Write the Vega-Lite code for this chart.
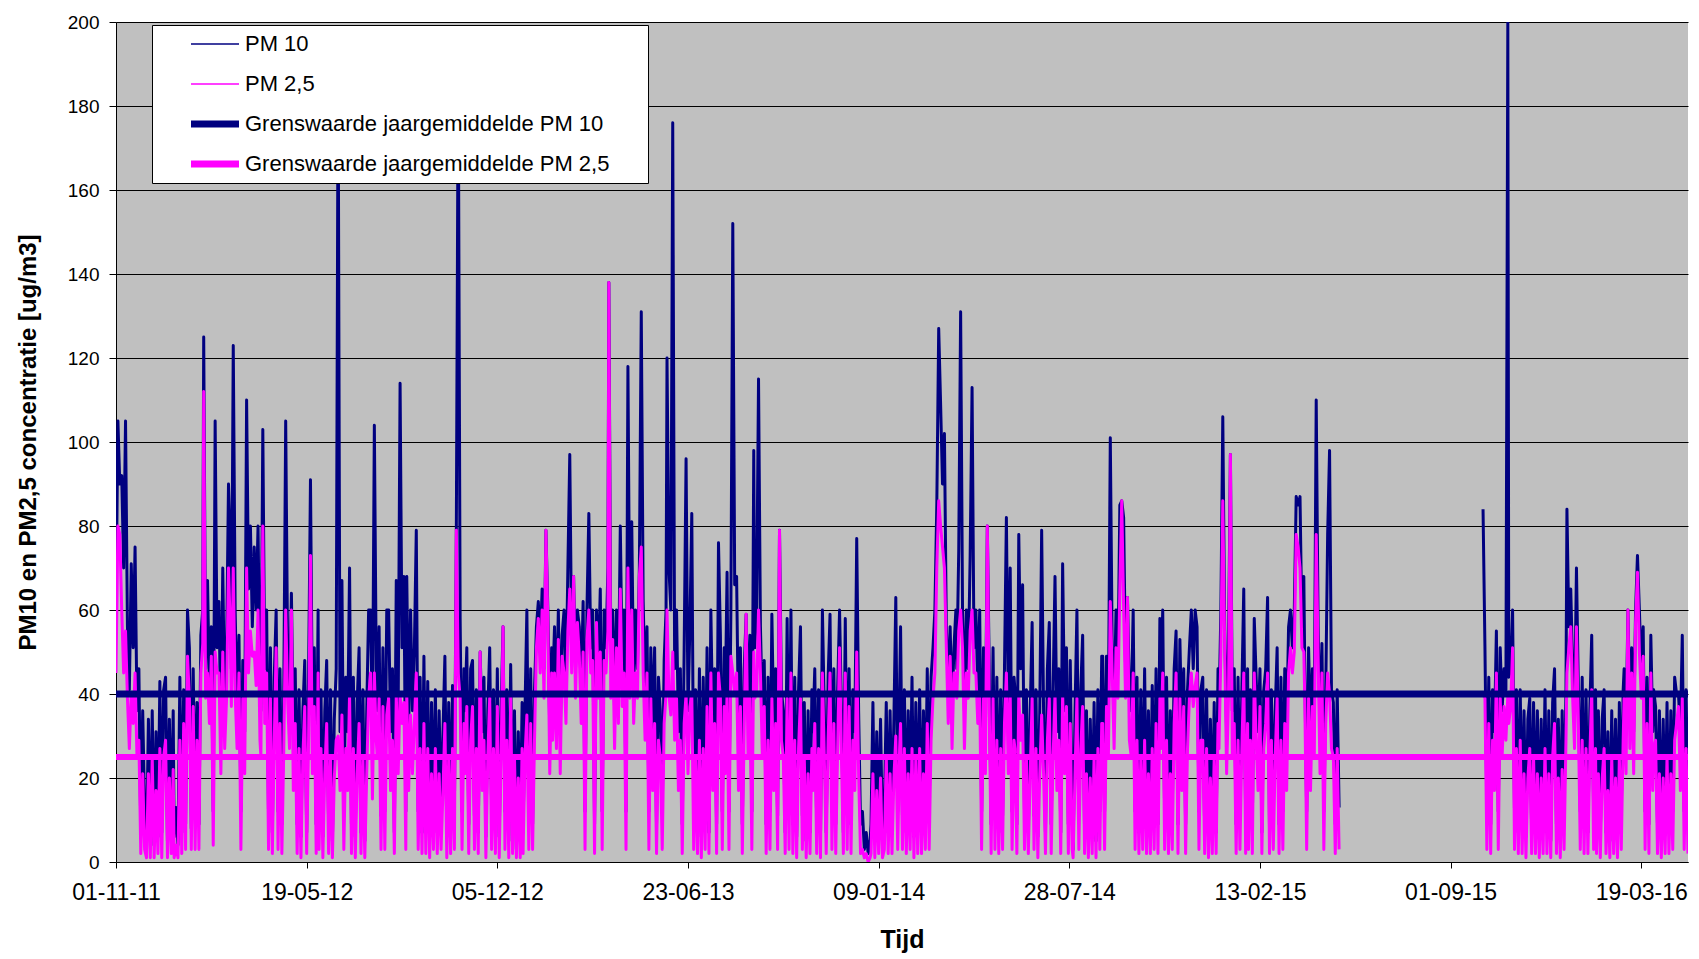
{
"$schema": "https://vega.github.io/schema/vega-lite/v6.json",
"width": 1572, "height": 840,
"autosize": {"type": "none"},
"padding": {"left": 116, "top": 22, "right": 11, "bottom": 97},
"background": "white",
"config": {
 "view": {"fill": "#C0C0C0", "stroke": null},
 "font": "Liberation Sans",
 "axis": {"labelFont": "Liberation Sans", "titleFont": "Liberation Sans", "labelColor": "#000", "titleColor": "#000", "domainColor": "#000", "tickColor": "#000", "domainWidth": 1, "tickWidth": 1, "labelFlush": false, "labelOverlap": false}
},
"datasets": {
"lim": [{"t":"2011-11-01","c":40,"d":25},{"t":"2016-05-07","c":40,"d":25}],
"pm": [
{"t":"2011-11-01","a":60,"b":45},{"t":"2011-11-03","a":105,"b":80},{"t":"2011-11-05","a":90,"b":78},{"t":"2011-11-07","a":92,"b":60},{"t":"2011-11-09","a":70,"b":45},{"t":"2011-11-11","a":105,"b":55},{"t":"2011-11-13","a":56,"b":39},{"t":"2011-11-15","a":41,"b":27},{"t":"2011-11-17","a":71,"b":40},{"t":"2011-11-19","a":51,"b":33},{"t":"2011-11-21","a":75,"b":45},{"t":"2011-11-23","a":36,"b":25},{"t":"2011-11-25","a":46,"b":29},{"t":"2011-11-27","a":7,"b":2},{"t":"2011-11-29","a":36,"b":21},
{"t":"2011-12-01","a":13,"b":3},{"t":"2011-12-03","a":3,"b":1},{"t":"2011-12-05","a":34,"b":21},{"t":"2011-12-07","a":5,"b":1},{"t":"2011-12-09","a":36,"b":25},{"t":"2011-12-11","a":4,"b":1},{"t":"2011-12-13","a":31,"b":17},{"t":"2011-12-15","a":6,"b":2},{"t":"2011-12-17","a":43,"b":27},{"t":"2011-12-19","a":7,"b":1},{"t":"2011-12-21","a":41,"b":25},{"t":"2011-12-23","a":44,"b":29},{"t":"2011-12-25","a":5,"b":1},{"t":"2011-12-27","a":34,"b":20},{"t":"2011-12-29","a":8,"b":2},{"t":"2011-12-31","a":36,"b":22},
{"t":"2012-01-01","a":6,"b":1},{"t":"2012-01-03","a":13,"b":4},{"t":"2012-01-05","a":4,"b":1},{"t":"2012-01-07","a":44,"b":29},{"t":"2012-01-09","a":7,"b":2},{"t":"2012-01-11","a":41,"b":33},{"t":"2012-01-13","a":9,"b":3},{"t":"2012-01-15","a":60,"b":49},{"t":"2012-01-17","a":51,"b":39},{"t":"2012-01-19","a":8,"b":3},{"t":"2012-01-21","a":46,"b":37},{"t":"2012-01-23","a":11,"b":3},{"t":"2012-01-25","a":38,"b":29},{"t":"2012-01-27","a":9,"b":3},{"t":"2012-01-29","a":54,"b":45},{"t":"2012-01-31","a":60,"b":52},
{"t":"2012-02-01","a":125,"b":112},{"t":"2012-02-03","a":46,"b":39},{"t":"2012-02-05","a":67,"b":45},{"t":"2012-02-07","a":41,"b":33},{"t":"2012-02-09","a":56,"b":49},{"t":"2012-02-11","a":12,"b":4},{"t":"2012-02-13","a":105,"b":50},{"t":"2012-02-15","a":51,"b":45},{"t":"2012-02-17","a":62,"b":45},{"t":"2012-02-19","a":31,"b":21},{"t":"2012-02-21","a":70,"b":50},{"t":"2012-02-23","a":36,"b":27},{"t":"2012-02-25","a":51,"b":39},{"t":"2012-02-27","a":90,"b":70},{"t":"2012-02-29","a":75,"b":55},
{"t":"2012-03-01","a":46,"b":37},{"t":"2012-03-03","a":123,"b":70},{"t":"2012-03-05","a":60,"b":40},{"t":"2012-03-07","a":36,"b":27},{"t":"2012-03-09","a":54,"b":45},{"t":"2012-03-11","a":12,"b":3},{"t":"2012-03-13","a":48,"b":39},{"t":"2012-03-15","a":31,"b":21},{"t":"2012-03-17","a":110,"b":70},{"t":"2012-03-19","a":65,"b":45},{"t":"2012-03-21","a":80,"b":55},{"t":"2012-03-23","a":56,"b":49},{"t":"2012-03-25","a":75,"b":50},{"t":"2012-03-27","a":60,"b":42},{"t":"2012-03-29","a":80,"b":60},{"t":"2012-03-31","a":41,"b":29},
{"t":"2012-04-01","a":36,"b":25},{"t":"2012-04-03","a":103,"b":80},{"t":"2012-04-05","a":46,"b":33},{"t":"2012-04-07","a":60,"b":45},{"t":"2012-04-09","a":11,"b":3},{"t":"2012-04-11","a":51,"b":39},{"t":"2012-04-13","a":7,"b":2},{"t":"2012-04-15","a":44,"b":29},{"t":"2012-04-17","a":60,"b":51},{"t":"2012-04-19","a":12,"b":3},{"t":"2012-04-21","a":46,"b":33},{"t":"2012-04-23","a":9,"b":2},{"t":"2012-04-25","a":41,"b":27},{"t":"2012-04-27","a":105,"b":60},{"t":"2012-04-29","a":51,"b":39},
{"t":"2012-05-01","a":36,"b":27},{"t":"2012-05-03","a":64,"b":60},{"t":"2012-05-05","a":31,"b":17},{"t":"2012-05-07","a":46,"b":33},{"t":"2012-05-09","a":9,"b":2},{"t":"2012-05-11","a":41,"b":27},{"t":"2012-05-13","a":6,"b":1},{"t":"2012-05-15","a":36,"b":25},{"t":"2012-05-17","a":48,"b":37},{"t":"2012-05-19","a":7,"b":2},{"t":"2012-05-21","a":44,"b":29},{"t":"2012-05-23","a":91,"b":73},{"t":"2012-05-25","a":36,"b":21},{"t":"2012-05-27","a":51,"b":37},{"t":"2012-05-29","a":9,"b":2},{"t":"2012-05-31","a":60,"b":45},
{"t":"2012-06-01","a":12,"b":3},{"t":"2012-06-03","a":41,"b":27},{"t":"2012-06-05","a":6,"b":1},{"t":"2012-06-07","a":36,"b":21},{"t":"2012-06-09","a":48,"b":33},{"t":"2012-06-11","a":9,"b":2},{"t":"2012-06-13","a":41,"b":25},{"t":"2012-06-15","a":5,"b":1},{"t":"2012-06-17","a":34,"b":20},{"t":"2012-06-19","a":46,"b":29},{"t":"2012-06-21","a":190,"b":30},{"t":"2012-06-23","a":31,"b":17},{"t":"2012-06-25","a":67,"b":35},{"t":"2012-06-27","a":11,"b":3},{"t":"2012-06-29","a":44,"b":27},
{"t":"2012-07-01","a":31,"b":17},{"t":"2012-07-03","a":70,"b":40},{"t":"2012-07-05","a":9,"b":2},{"t":"2012-07-07","a":44,"b":27},{"t":"2012-07-09","a":6,"b":1},{"t":"2012-07-11","a":38,"b":21},{"t":"2012-07-13","a":51,"b":33},{"t":"2012-07-15","a":7,"b":2},{"t":"2012-07-17","a":41,"b":25},{"t":"2012-07-19","a":5,"b":1},{"t":"2012-07-21","a":36,"b":21},{"t":"2012-07-23","a":60,"b":39},{"t":"2012-07-25","a":60,"b":45},{"t":"2012-07-27","a":31,"b":15},{"t":"2012-07-29","a":104,"b":45},{"t":"2012-07-31","a":46,"b":29},
{"t":"2012-08-01","a":36,"b":25},{"t":"2012-08-03","a":56,"b":39},{"t":"2012-08-05","a":11,"b":3},{"t":"2012-08-07","a":51,"b":37},{"t":"2012-08-09","a":12,"b":3},{"t":"2012-08-11","a":60,"b":35},{"t":"2012-08-13","a":60,"b":39},{"t":"2012-08-15","a":31,"b":17},{"t":"2012-08-17","a":46,"b":29},{"t":"2012-08-19","a":7,"b":2},{"t":"2012-08-21","a":67,"b":40},{"t":"2012-08-23","a":36,"b":21},{"t":"2012-08-25","a":114,"b":40},{"t":"2012-08-27","a":51,"b":33},{"t":"2012-08-29","a":68,"b":38},{"t":"2012-08-31","a":12,"b":3},
{"t":"2012-09-01","a":68,"b":40},{"t":"2012-09-03","a":31,"b":17},{"t":"2012-09-05","a":60,"b":35},{"t":"2012-09-07","a":36,"b":21},{"t":"2012-09-09","a":51,"b":33},{"t":"2012-09-11","a":79,"b":45},{"t":"2012-09-13","a":12,"b":3},{"t":"2012-09-15","a":44,"b":27},{"t":"2012-09-17","a":7,"b":2},{"t":"2012-09-19","a":49,"b":33},{"t":"2012-09-21","a":9,"b":2},{"t":"2012-09-23","a":43,"b":27},{"t":"2012-09-25","a":6,"b":1},{"t":"2012-09-27","a":38,"b":21},{"t":"2012-09-29","a":12,"b":3},
{"t":"2012-10-01","a":41,"b":27},{"t":"2012-10-03","a":7,"b":2},{"t":"2012-10-05","a":36,"b":21},{"t":"2012-10-07","a":11,"b":3},{"t":"2012-10-09","a":31,"b":17},{"t":"2012-10-11","a":49,"b":33},{"t":"2012-10-13","a":6,"b":1},{"t":"2012-10-15","a":38,"b":25},{"t":"2012-10-17","a":9,"b":2},{"t":"2012-10-19","a":42,"b":27},{"t":"2012-10-21","a":13,"b":3},{"t":"2012-10-23","a":79,"b":79},{"t":"2012-10-25","a":190,"b":45},{"t":"2012-10-27","a":58,"b":39},{"t":"2012-10-29","a":12,"b":3},{"t":"2012-10-31","a":46,"b":33},
{"t":"2012-11-01","a":36,"b":21},{"t":"2012-11-03","a":51,"b":37},{"t":"2012-11-05","a":9,"b":2},{"t":"2012-11-07","a":46,"b":29},{"t":"2012-11-09","a":48,"b":37},{"t":"2012-11-11","a":11,"b":3},{"t":"2012-11-13","a":41,"b":27},{"t":"2012-11-15","a":7,"b":2},{"t":"2012-11-17","a":50,"b":50},{"t":"2012-11-19","a":31,"b":17},{"t":"2012-11-21","a":44,"b":29},{"t":"2012-11-23","a":6,"b":1},{"t":"2012-11-25","a":36,"b":25},{"t":"2012-11-27","a":51,"b":39},{"t":"2012-11-29","a":12,"b":3},
{"t":"2012-12-01","a":41,"b":27},{"t":"2012-12-03","a":9,"b":2},{"t":"2012-12-05","a":46,"b":37},{"t":"2012-12-07","a":6,"b":1},{"t":"2012-12-09","a":36,"b":25},{"t":"2012-12-11","a":56,"b":56},{"t":"2012-12-13","a":12,"b":3},{"t":"2012-12-15","a":41,"b":29},{"t":"2012-12-17","a":5,"b":1},{"t":"2012-12-19","a":47,"b":40},{"t":"2012-12-21","a":9,"b":2},{"t":"2012-12-23","a":36,"b":25},{"t":"2012-12-25","a":3,"b":1},{"t":"2012-12-27","a":31,"b":20},{"t":"2012-12-29","a":6,"b":1},{"t":"2012-12-31","a":38,"b":27},
{"t":"2013-01-01","a":7,"b":2},{"t":"2013-01-03","a":36,"b":25},{"t":"2013-01-05","a":60,"b":35},{"t":"2013-01-07","a":12,"b":3},{"t":"2013-01-09","a":46,"b":33},{"t":"2013-01-11","a":9,"b":3},{"t":"2013-01-13","a":41,"b":29},{"t":"2013-01-15","a":56,"b":51},{"t":"2013-01-17","a":62,"b":58},{"t":"2013-01-19","a":51,"b":45},{"t":"2013-01-21","a":65,"b":60},{"t":"2013-01-23","a":46,"b":39},{"t":"2013-01-25","a":79,"b":79},{"t":"2013-01-27","a":60,"b":57},{"t":"2013-01-29","a":31,"b":21},{"t":"2013-01-31","a":51,"b":45},
{"t":"2013-02-01","a":41,"b":29},{"t":"2013-02-03","a":56,"b":45},{"t":"2013-02-05","a":36,"b":27},{"t":"2013-02-07","a":60,"b":53},{"t":"2013-02-09","a":31,"b":21},{"t":"2013-02-11","a":54,"b":49},{"t":"2013-02-13","a":60,"b":45},{"t":"2013-02-15","a":41,"b":33},{"t":"2013-02-17","a":70,"b":55},{"t":"2013-02-19","a":97,"b":65},{"t":"2013-02-21","a":51,"b":45},{"t":"2013-02-23","a":68,"b":68},{"t":"2013-02-25","a":46,"b":39},{"t":"2013-02-27","a":60,"b":57},
{"t":"2013-03-01","a":56,"b":49},{"t":"2013-03-03","a":41,"b":33},{"t":"2013-03-05","a":62,"b":50},{"t":"2013-03-07","a":12,"b":3},{"t":"2013-03-09","a":60,"b":53},{"t":"2013-03-11","a":83,"b":60},{"t":"2013-03-13","a":51,"b":45},{"t":"2013-03-15","a":60,"b":48},{"t":"2013-03-17","a":9,"b":2},{"t":"2013-03-19","a":60,"b":57},{"t":"2013-03-21","a":46,"b":39},{"t":"2013-03-23","a":65,"b":50},{"t":"2013-03-25","a":12,"b":3},{"t":"2013-03-27","a":60,"b":48},{"t":"2013-03-29","a":51,"b":45},{"t":"2013-03-31","a":70,"b":55},
{"t":"2013-04-01","a":138,"b":138},{"t":"2013-04-03","a":51,"b":39},{"t":"2013-04-05","a":60,"b":53},{"t":"2013-04-07","a":36,"b":27},{"t":"2013-04-09","a":60,"b":51},{"t":"2013-04-11","a":41,"b":33},{"t":"2013-04-13","a":80,"b":65},{"t":"2013-04-15","a":46,"b":37},{"t":"2013-04-17","a":60,"b":45},{"t":"2013-04-19","a":12,"b":3},{"t":"2013-04-21","a":118,"b":70},{"t":"2013-04-23","a":51,"b":39},{"t":"2013-04-25","a":81,"b":60},{"t":"2013-04-27","a":41,"b":33},{"t":"2013-04-29","a":60,"b":45},
{"t":"2013-05-01","a":46,"b":39},{"t":"2013-05-03","a":70,"b":68},{"t":"2013-05-05","a":131,"b":75},{"t":"2013-05-07","a":62,"b":45},{"t":"2013-05-09","a":41,"b":29},{"t":"2013-05-11","a":56,"b":45},{"t":"2013-05-13","a":12,"b":3},{"t":"2013-05-15","a":51,"b":39},{"t":"2013-05-17","a":31,"b":17},{"t":"2013-05-19","a":51,"b":33},{"t":"2013-05-21","a":9,"b":2},{"t":"2013-05-23","a":44,"b":29},{"t":"2013-05-25","a":36,"b":25},{"t":"2013-05-27","a":12,"b":3},{"t":"2013-05-29","a":48,"b":33},{"t":"2013-05-31","a":60,"b":40},
{"t":"2013-06-01","a":120,"b":60},{"t":"2013-06-03","a":70,"b":40},{"t":"2013-06-05","a":60,"b":35},{"t":"2013-06-07","a":176,"b":50},{"t":"2013-06-09","a":46,"b":29},{"t":"2013-06-11","a":60,"b":39},{"t":"2013-06-13","a":31,"b":17},{"t":"2013-06-15","a":46,"b":29},{"t":"2013-06-17","a":9,"b":2},{"t":"2013-06-19","a":51,"b":33},{"t":"2013-06-21","a":96,"b":40},{"t":"2013-06-23","a":36,"b":21},{"t":"2013-06-25","a":56,"b":37},{"t":"2013-06-27","a":83,"b":40},{"t":"2013-06-29","a":12,"b":3},
{"t":"2013-07-01","a":41,"b":25},{"t":"2013-07-03","a":9,"b":2},{"t":"2013-07-05","a":46,"b":29},{"t":"2013-07-07","a":6,"b":1},{"t":"2013-07-09","a":44,"b":27},{"t":"2013-07-11","a":13,"b":3},{"t":"2013-07-13","a":51,"b":37},{"t":"2013-07-15","a":7,"b":2},{"t":"2013-07-17","a":60,"b":45},{"t":"2013-07-19","a":31,"b":17},{"t":"2013-07-21","a":46,"b":33},{"t":"2013-07-23","a":9,"b":2},{"t":"2013-07-25","a":76,"b":45},{"t":"2013-07-27","a":54,"b":39},{"t":"2013-07-29","a":12,"b":3},{"t":"2013-07-31","a":51,"b":37},
{"t":"2013-08-01","a":36,"b":21},{"t":"2013-08-03","a":69,"b":40},{"t":"2013-08-05","a":12,"b":3},{"t":"2013-08-07","a":60,"b":49},{"t":"2013-08-09","a":152,"b":45},{"t":"2013-08-11","a":66,"b":40},{"t":"2013-08-13","a":68,"b":45},{"t":"2013-08-15","a":31,"b":17},{"t":"2013-08-17","a":51,"b":37},{"t":"2013-08-19","a":9,"b":2},{"t":"2013-08-21","a":46,"b":33},{"t":"2013-08-23","a":59,"b":59},{"t":"2013-08-25","a":36,"b":25},{"t":"2013-08-27","a":54,"b":39},{"t":"2013-08-29","a":12,"b":3},{"t":"2013-08-31","a":98,"b":50},
{"t":"2013-09-01","a":51,"b":39},{"t":"2013-09-03","a":60,"b":40},{"t":"2013-09-05","a":115,"b":60},{"t":"2013-09-07","a":56,"b":45},{"t":"2013-09-09","a":36,"b":25},{"t":"2013-09-11","a":48,"b":37},{"t":"2013-09-13","a":9,"b":2},{"t":"2013-09-15","a":44,"b":29},{"t":"2013-09-17","a":12,"b":3},{"t":"2013-09-19","a":59,"b":39},{"t":"2013-09-21","a":31,"b":17},{"t":"2013-09-23","a":46,"b":33},{"t":"2013-09-25","a":11,"b":3},{"t":"2013-09-27","a":79,"b":79},{"t":"2013-09-29","a":41,"b":29},
{"t":"2013-10-01","a":36,"b":25},{"t":"2013-10-03","a":7,"b":2},{"t":"2013-10-05","a":58,"b":39},{"t":"2013-10-07","a":12,"b":3},{"t":"2013-10-09","a":60,"b":45},{"t":"2013-10-11","a":9,"b":2},{"t":"2013-10-13","a":44,"b":29},{"t":"2013-10-15","a":6,"b":1},{"t":"2013-10-17","a":41,"b":27},{"t":"2013-10-19","a":56,"b":39},{"t":"2013-10-21","a":11,"b":3},{"t":"2013-10-23","a":38,"b":25},{"t":"2013-10-25","a":5,"b":1},{"t":"2013-10-27","a":36,"b":21},{"t":"2013-10-29","a":7,"b":2},{"t":"2013-10-31","a":41,"b":27},
{"t":"2013-11-01","a":31,"b":17},{"t":"2013-11-03","a":46,"b":33},{"t":"2013-11-05","a":9,"b":2},{"t":"2013-11-07","a":41,"b":27},{"t":"2013-11-09","a":6,"b":1},{"t":"2013-11-11","a":60,"b":45},{"t":"2013-11-13","a":36,"b":25},{"t":"2013-11-15","a":7,"b":2},{"t":"2013-11-17","a":44,"b":29},{"t":"2013-11-19","a":59,"b":45},{"t":"2013-11-21","a":12,"b":3},{"t":"2013-11-23","a":46,"b":33},{"t":"2013-11-25","a":9,"b":2},{"t":"2013-11-27","a":41,"b":27},{"t":"2013-11-29","a":60,"b":51},
{"t":"2013-12-01","a":36,"b":25},{"t":"2013-12-03","a":7,"b":2},{"t":"2013-12-05","a":58,"b":45},{"t":"2013-12-07","a":12,"b":3},{"t":"2013-12-09","a":46,"b":37},{"t":"2013-12-11","a":9,"b":2},{"t":"2013-12-13","a":41,"b":29},{"t":"2013-12-15","a":31,"b":17},{"t":"2013-12-17","a":77,"b":50},{"t":"2013-12-19","a":36,"b":21},{"t":"2013-12-21","a":9,"b":2},{"t":"2013-12-23","a":12,"b":3},{"t":"2013-12-25","a":3,"b":1},{"t":"2013-12-27","a":7,"b":2},{"t":"2013-12-29","a":2,"b":0},{"t":"2013-12-31","a":5,"b":1},
{"t":"2014-01-01","a":9,"b":2},{"t":"2014-01-03","a":38,"b":21},{"t":"2014-01-05","a":5,"b":1},{"t":"2014-01-07","a":31,"b":17},{"t":"2014-01-09","a":7,"b":2},{"t":"2014-01-11","a":34,"b":20},{"t":"2014-01-13","a":6,"b":1},{"t":"2014-01-15","a":13,"b":3},{"t":"2014-01-17","a":38,"b":25},{"t":"2014-01-19","a":7,"b":2},{"t":"2014-01-21","a":36,"b":21},{"t":"2014-01-23","a":9,"b":2},{"t":"2014-01-25","a":34,"b":20},{"t":"2014-01-27","a":63,"b":30},{"t":"2014-01-29","a":12,"b":3},{"t":"2014-01-31","a":41,"b":27},
{"t":"2014-02-01","a":56,"b":33},{"t":"2014-02-03","a":11,"b":3},{"t":"2014-02-05","a":41,"b":27},{"t":"2014-02-07","a":7,"b":2},{"t":"2014-02-09","a":36,"b":21},{"t":"2014-02-11","a":12,"b":3},{"t":"2014-02-13","a":44,"b":27},{"t":"2014-02-15","a":6,"b":1},{"t":"2014-02-17","a":38,"b":25},{"t":"2014-02-19","a":9,"b":2},{"t":"2014-02-21","a":41,"b":27},{"t":"2014-02-23","a":7,"b":2},{"t":"2014-02-25","a":36,"b":21},{"t":"2014-02-27","a":12,"b":3},
{"t":"2014-03-01","a":46,"b":33},{"t":"2014-03-03","a":12,"b":3},{"t":"2014-03-05","a":44,"b":29},{"t":"2014-03-07","a":51,"b":39},{"t":"2014-03-09","a":60,"b":45},{"t":"2014-03-11","a":85,"b":70},{"t":"2014-03-13","a":127,"b":86},{"t":"2014-03-15","a":109,"b":80},{"t":"2014-03-17","a":90,"b":75},{"t":"2014-03-19","a":102,"b":70},{"t":"2014-03-21","a":56,"b":51},{"t":"2014-03-23","a":41,"b":33},{"t":"2014-03-25","a":56,"b":49},{"t":"2014-03-27","a":36,"b":27},{"t":"2014-03-29","a":51,"b":45},{"t":"2014-03-31","a":60,"b":45},
{"t":"2014-04-01","a":46,"b":39},{"t":"2014-04-03","a":74,"b":55},{"t":"2014-04-05","a":131,"b":60},{"t":"2014-04-07","a":60,"b":51},{"t":"2014-04-09","a":36,"b":27},{"t":"2014-04-11","a":60,"b":45},{"t":"2014-04-13","a":46,"b":39},{"t":"2014-04-15","a":73,"b":55},{"t":"2014-04-17","a":113,"b":60},{"t":"2014-04-19","a":51,"b":45},{"t":"2014-04-21","a":60,"b":45},{"t":"2014-04-23","a":41,"b":33},{"t":"2014-04-25","a":60,"b":40},{"t":"2014-04-27","a":12,"b":3},{"t":"2014-04-29","a":51,"b":39},
{"t":"2014-05-01","a":31,"b":21},{"t":"2014-05-03","a":80,"b":80},{"t":"2014-05-05","a":46,"b":37},{"t":"2014-05-07","a":9,"b":2},{"t":"2014-05-09","a":51,"b":39},{"t":"2014-05-11","a":12,"b":3},{"t":"2014-05-13","a":44,"b":29},{"t":"2014-05-15","a":7,"b":2},{"t":"2014-05-17","a":41,"b":27},{"t":"2014-05-19","a":11,"b":3},{"t":"2014-05-21","a":46,"b":33},{"t":"2014-05-23","a":82,"b":45},{"t":"2014-05-25","a":36,"b":21},{"t":"2014-05-27","a":70,"b":40},{"t":"2014-05-29","a":12,"b":3},{"t":"2014-05-31","a":44,"b":29},
{"t":"2014-06-01","a":41,"b":27},{"t":"2014-06-03","a":9,"b":2},{"t":"2014-06-05","a":78,"b":40},{"t":"2014-06-07","a":46,"b":29},{"t":"2014-06-09","a":66,"b":35},{"t":"2014-06-11","a":12,"b":3},{"t":"2014-06-13","a":41,"b":25},{"t":"2014-06-15","a":7,"b":2},{"t":"2014-06-17","a":36,"b":21},{"t":"2014-06-19","a":57,"b":39},{"t":"2014-06-21","a":11,"b":3},{"t":"2014-06-23","a":41,"b":27},{"t":"2014-06-25","a":6,"b":1},{"t":"2014-06-27","a":36,"b":21},{"t":"2014-06-29","a":79,"b":35},
{"t":"2014-07-01","a":36,"b":21},{"t":"2014-07-03","a":7,"b":2},{"t":"2014-07-05","a":46,"b":29},{"t":"2014-07-07","a":57,"b":39},{"t":"2014-07-09","a":9,"b":2},{"t":"2014-07-11","a":41,"b":25},{"t":"2014-07-13","a":68,"b":40},{"t":"2014-07-15","a":31,"b":17},{"t":"2014-07-17","a":46,"b":29},{"t":"2014-07-19","a":7,"b":2},{"t":"2014-07-21","a":71,"b":40},{"t":"2014-07-23","a":36,"b":21},{"t":"2014-07-25","a":51,"b":37},{"t":"2014-07-27","a":9,"b":2},{"t":"2014-07-29","a":48,"b":33},{"t":"2014-07-31","a":12,"b":3},
{"t":"2014-08-01","a":3,"b":1},{"t":"2014-08-03","a":36,"b":21},{"t":"2014-08-05","a":60,"b":39},{"t":"2014-08-07","a":11,"b":3},{"t":"2014-08-09","a":41,"b":27},{"t":"2014-08-11","a":54,"b":37},{"t":"2014-08-13","a":7,"b":2},{"t":"2014-08-15","a":36,"b":21},{"t":"2014-08-17","a":6,"b":1},{"t":"2014-08-19","a":34,"b":20},{"t":"2014-08-21","a":9,"b":2},{"t":"2014-08-23","a":38,"b":25},{"t":"2014-08-25","a":5,"b":1},{"t":"2014-08-27","a":41,"b":27},{"t":"2014-08-29","a":12,"b":3},{"t":"2014-08-31","a":49,"b":33},
{"t":"2014-09-01","a":49,"b":33},{"t":"2014-09-03","a":12,"b":3},{"t":"2014-09-05","a":49,"b":37},{"t":"2014-09-07","a":36,"b":25},{"t":"2014-09-09","a":101,"b":62},{"t":"2014-09-11","a":51,"b":45},{"t":"2014-09-13","a":36,"b":27},{"t":"2014-09-15","a":60,"b":51},{"t":"2014-09-17","a":46,"b":39},{"t":"2014-09-19","a":85,"b":65},{"t":"2014-09-21","a":86,"b":86},{"t":"2014-09-23","a":82,"b":60},{"t":"2014-09-25","a":46,"b":39},{"t":"2014-09-27","a":63,"b":63},{"t":"2014-09-29","a":41,"b":29},
{"t":"2014-10-01","a":36,"b":25},{"t":"2014-10-03","a":60,"b":45},{"t":"2014-10-05","a":12,"b":3},{"t":"2014-10-07","a":44,"b":29},{"t":"2014-10-09","a":7,"b":2},{"t":"2014-10-11","a":41,"b":25},{"t":"2014-10-13","a":12,"b":3},{"t":"2014-10-15","a":46,"b":29},{"t":"2014-10-17","a":9,"b":2},{"t":"2014-10-19","a":36,"b":21},{"t":"2014-10-21","a":7,"b":2},{"t":"2014-10-23","a":42,"b":27},{"t":"2014-10-25","a":12,"b":3},{"t":"2014-10-27","a":46,"b":33},{"t":"2014-10-29","a":9,"b":2},{"t":"2014-10-31","a":58,"b":39},
{"t":"2014-11-01","a":41,"b":27},{"t":"2014-11-03","a":60,"b":45},{"t":"2014-11-05","a":11,"b":3},{"t":"2014-11-07","a":44,"b":29},{"t":"2014-11-09","a":7,"b":2},{"t":"2014-11-11","a":36,"b":21},{"t":"2014-11-13","a":12,"b":3},{"t":"2014-11-15","a":46,"b":33},{"t":"2014-11-17","a":55,"b":45},{"t":"2014-11-19","a":9,"b":2},{"t":"2014-11-21","a":53,"b":39},{"t":"2014-11-23","a":31,"b":17},{"t":"2014-11-25","a":46,"b":37},{"t":"2014-11-27","a":9,"b":2},{"t":"2014-11-29","a":41,"b":27},
{"t":"2014-12-01","a":51,"b":39},{"t":"2014-12-03","a":60,"b":45},{"t":"2014-12-05","a":46,"b":37},{"t":"2014-12-07","a":60,"b":42},{"t":"2014-12-09","a":56,"b":45},{"t":"2014-12-11","a":12,"b":3},{"t":"2014-12-13","a":41,"b":29},{"t":"2014-12-15","a":44,"b":29},{"t":"2014-12-17","a":7,"b":2},{"t":"2014-12-19","a":41,"b":27},{"t":"2014-12-21","a":6,"b":1},{"t":"2014-12-23","a":34,"b":20},{"t":"2014-12-25","a":9,"b":2},{"t":"2014-12-27","a":38,"b":25},{"t":"2014-12-29","a":7,"b":2},{"t":"2014-12-31","a":46,"b":33},
{"t":"2015-01-01","a":36,"b":27},{"t":"2015-01-03","a":60,"b":50},{"t":"2015-01-05","a":106,"b":86},{"t":"2015-01-07","a":56,"b":51},{"t":"2015-01-09","a":31,"b":21},{"t":"2015-01-11","a":51,"b":39},{"t":"2015-01-13","a":97,"b":97},{"t":"2015-01-15","a":36,"b":25},{"t":"2015-01-17","a":46,"b":33},{"t":"2015-01-19","a":9,"b":2},{"t":"2015-01-21","a":44,"b":29},{"t":"2015-01-23","a":12,"b":3},{"t":"2015-01-25","a":41,"b":27},{"t":"2015-01-27","a":65,"b":45},{"t":"2015-01-29","a":9,"b":2},{"t":"2015-01-31","a":46,"b":33},
{"t":"2015-02-01","a":12,"b":3},{"t":"2015-02-03","a":41,"b":29},{"t":"2015-02-05","a":9,"b":2},{"t":"2015-02-07","a":58,"b":45},{"t":"2015-02-09","a":44,"b":29},{"t":"2015-02-11","a":31,"b":17},{"t":"2015-02-13","a":46,"b":37},{"t":"2015-02-15","a":7,"b":2},{"t":"2015-02-17","a":41,"b":27},{"t":"2015-02-19","a":46,"b":33},{"t":"2015-02-21","a":63,"b":45},{"t":"2015-02-23","a":9,"b":2},{"t":"2015-02-25","a":41,"b":29},{"t":"2015-02-27","a":12,"b":3},
{"t":"2015-03-01","a":36,"b":25},{"t":"2015-03-03","a":51,"b":39},{"t":"2015-03-05","a":9,"b":2},{"t":"2015-03-07","a":44,"b":29},{"t":"2015-03-09","a":12,"b":3},{"t":"2015-03-11","a":46,"b":33},{"t":"2015-03-13","a":31,"b":17},{"t":"2015-03-15","a":56,"b":45},{"t":"2015-03-17","a":60,"b":51},{"t":"2015-03-19","a":51,"b":45},{"t":"2015-03-21","a":60,"b":50},{"t":"2015-03-23","a":87,"b":78},{"t":"2015-03-25","a":85,"b":75},{"t":"2015-03-27","a":87,"b":70},{"t":"2015-03-29","a":56,"b":51},{"t":"2015-03-31","a":68,"b":50},
{"t":"2015-04-01","a":46,"b":39},{"t":"2015-04-03","a":12,"b":3},{"t":"2015-04-05","a":51,"b":39},{"t":"2015-04-07","a":31,"b":17},{"t":"2015-04-09","a":46,"b":37},{"t":"2015-04-11","a":36,"b":25},{"t":"2015-04-13","a":110,"b":78},{"t":"2015-04-15","a":56,"b":49},{"t":"2015-04-17","a":31,"b":21},{"t":"2015-04-19","a":52,"b":45},{"t":"2015-04-21","a":12,"b":3},{"t":"2015-04-23","a":41,"b":33},{"t":"2015-04-25","a":78,"b":45},{"t":"2015-04-27","a":98,"b":40},{"t":"2015-04-29","a":41,"b":27},
{"t":"2015-05-01","a":38,"b":25},{"t":"2015-05-03","a":9,"b":2},{"t":"2015-05-05","a":41,"b":27},{"t":"2015-05-07","a":13,"b":3},
{"t":"2015-07-01","a":null,"b":null},
{"t":"2015-10-05","a":84,"b":40},{"t":"2015-10-07","a":51,"b":39},{"t":"2015-10-09","a":12,"b":3},{"t":"2015-10-11","a":44,"b":33},{"t":"2015-10-13","a":9,"b":2},{"t":"2015-10-15","a":41,"b":29},{"t":"2015-10-17","a":31,"b":17},{"t":"2015-10-19","a":55,"b":45},{"t":"2015-10-21","a":12,"b":3},{"t":"2015-10-23","a":51,"b":39},{"t":"2015-10-25","a":36,"b":25},{"t":"2015-10-27","a":46,"b":37},{"t":"2015-10-29","a":41,"b":29},{"t":"2015-10-31","a":200,"b":40},
{"t":"2015-11-01","a":44,"b":33},{"t":"2015-11-03","a":46,"b":37},{"t":"2015-11-05","a":60,"b":51},{"t":"2015-11-07","a":12,"b":3},{"t":"2015-11-09","a":41,"b":27},{"t":"2015-11-11","a":7,"b":2},{"t":"2015-11-13","a":41,"b":29},{"t":"2015-11-15","a":9,"b":2},{"t":"2015-11-17","a":36,"b":21},{"t":"2015-11-19","a":6,"b":1},{"t":"2015-11-21","a":34,"b":20},{"t":"2015-11-23","a":39,"b":27},{"t":"2015-11-25","a":7,"b":2},{"t":"2015-11-27","a":38,"b":25},{"t":"2015-11-29","a":9,"b":2},
{"t":"2015-12-01","a":36,"b":21},{"t":"2015-12-03","a":6,"b":1},{"t":"2015-12-05","a":34,"b":20},{"t":"2015-12-07","a":9,"b":2},{"t":"2015-12-09","a":41,"b":27},{"t":"2015-12-11","a":7,"b":2},{"t":"2015-12-13","a":36,"b":21},{"t":"2015-12-15","a":5,"b":1},{"t":"2015-12-17","a":38,"b":25},{"t":"2015-12-19","a":46,"b":33},{"t":"2015-12-21","a":9,"b":2},{"t":"2015-12-23","a":34,"b":20},{"t":"2015-12-25","a":6,"b":1},{"t":"2015-12-27","a":36,"b":22},{"t":"2015-12-29","a":12,"b":3},{"t":"2015-12-31","a":41,"b":29},
{"t":"2016-01-01","a":84,"b":45},{"t":"2016-01-03","a":56,"b":51},{"t":"2016-01-05","a":65,"b":56},{"t":"2016-01-07","a":46,"b":39},{"t":"2016-01-09","a":36,"b":27},{"t":"2016-01-11","a":70,"b":56},{"t":"2016-01-13","a":41,"b":33},{"t":"2016-01-15","a":12,"b":3},{"t":"2016-01-17","a":44,"b":29},{"t":"2016-01-19","a":9,"b":2},{"t":"2016-01-21","a":41,"b":27},{"t":"2016-01-23","a":7,"b":2},{"t":"2016-01-25","a":36,"b":25},{"t":"2016-01-27","a":54,"b":41},{"t":"2016-01-29","a":12,"b":3},{"t":"2016-01-31","a":41,"b":27},
{"t":"2016-02-01","a":9,"b":2},{"t":"2016-02-03","a":36,"b":21},{"t":"2016-02-05","a":6,"b":1},{"t":"2016-02-07","a":34,"b":20},{"t":"2016-02-09","a":41,"b":27},{"t":"2016-02-11","a":7,"b":2},{"t":"2016-02-13","a":31,"b":17},{"t":"2016-02-15","a":5,"b":1},{"t":"2016-02-17","a":36,"b":25},{"t":"2016-02-19","a":9,"b":2},{"t":"2016-02-21","a":34,"b":20},{"t":"2016-02-23","a":6,"b":1},{"t":"2016-02-25","a":38,"b":25},{"t":"2016-02-27","a":12,"b":3},{"t":"2016-02-29","a":41,"b":29},
{"t":"2016-03-01","a":46,"b":39},{"t":"2016-03-03","a":31,"b":21},{"t":"2016-03-05","a":60,"b":60},{"t":"2016-03-07","a":36,"b":27},{"t":"2016-03-09","a":51,"b":45},{"t":"2016-03-11","a":31,"b":21},{"t":"2016-03-13","a":60,"b":57},{"t":"2016-03-15","a":73,"b":69},{"t":"2016-03-17","a":60,"b":50},{"t":"2016-03-19","a":46,"b":39},{"t":"2016-03-21","a":56,"b":49},{"t":"2016-03-23","a":12,"b":3},{"t":"2016-03-25","a":44,"b":33},{"t":"2016-03-27","a":9,"b":2},{"t":"2016-03-29","a":54,"b":45},{"t":"2016-03-31","a":31,"b":17},
{"t":"2016-04-01","a":41,"b":27},{"t":"2016-04-03","a":37,"b":29},{"t":"2016-04-05","a":9,"b":2},{"t":"2016-04-07","a":36,"b":21},{"t":"2016-04-09","a":6,"b":1},{"t":"2016-04-11","a":34,"b":20},{"t":"2016-04-13","a":9,"b":2},{"t":"2016-04-15","a":38,"b":25},{"t":"2016-04-17","a":7,"b":2},{"t":"2016-04-19","a":36,"b":21},{"t":"2016-04-21","a":12,"b":3},{"t":"2016-04-23","a":44,"b":29},{"t":"2016-04-25","a":40,"b":33},{"t":"2016-04-27","a":40,"b":37},{"t":"2016-04-29","a":31,"b":17},
{"t":"2016-05-01","a":54,"b":39},{"t":"2016-05-03","a":12,"b":3},{"t":"2016-05-05","a":41,"b":27},{"t":"2016-05-07","a":9,"b":2}
]
},
"encoding": {
 "x": {"field": "t", "type": "temporal", "title": "Tijd",
  "scale": {"type": "utc", "nice": false, "domain": [{"year": 2011, "month": 11, "date": 1, "utc": true}, {"year": 2016, "month": 5, "date": 7, "utc": true}]},
  "axis": {"values": [{"year": 2011, "month": 11, "date": 1, "utc": true}, {"year": 2012, "month": 5, "date": 19, "utc": true}, {"year": 2012, "month": 12, "date": 5, "utc": true}, {"year": 2013, "month": 6, "date": 23, "utc": true}, {"year": 2014, "month": 1, "date": 9, "utc": true}, {"year": 2014, "month": 7, "date": 28, "utc": true}, {"year": 2015, "month": 2, "date": 13, "utc": true}, {"year": 2015, "month": 9, "date": 1, "utc": true}, {"year": 2016, "month": 3, "date": 19, "utc": true}],
   "format": "%d-%m-%y", "grid": false, "tickSize": 6, "labelFontSize": 23, "labelPadding": 13, "titleFontSize": 25, "titleFontWeight": "bold", "titlePadding": 23}
 }
},
"layer": [
 {"data": {"name": "pm"},
  "mark": {"type": "line", "strokeWidth": 3, "strokeJoin": "round", "invalid": "break-paths-show-domains", "clip": true},
  "encoding": {
   "y": {"field": "a", "type": "quantitative", "title": "PM10 en PM2,5 concentratie [ug/m3]",
    "scale": {"domain": [0, 200], "nice": false},
    "axis": {"values": [0, 20, 40, 60, 80, 100, 120, 140, 160, 180, 200], "grid": true, "gridColor": "#000", "gridWidth": 1, "gridOpacity": 1, "tickSize": 7, "labelPadding": 10, "labelFontSize": 19, "titleFontSize": 24, "titleFontWeight": "bold", "titlePadding": 27}},
   "color": {"datum": "PM 10", "type": "nominal",
    "scale": {"domain": ["PM 10", "PM 2,5", "Grenswaarde jaargemiddelde PM 10", "Grenswaarde jaargemiddelde PM 2,5"], "range": ["#000080", "#FF00FF", "#000080", "#FF00FF"]},
    "legend": {"title": ".", "titleOrient": "right", "titleColor": "#FFFFFF", "titleFontSize": 8, "titlePadding": 32, "orient": "none", "legendX": 36, "legendY": 3, "fillColor": "#FFFFFF", "strokeColor": "#000000", "padding": 4, "symbolType": "stroke", "symbolSize": 2304, "symbolOffset": 48, "labelOffset": 19, "labelFontSize": 22, "labelFont": "Liberation Sans", "labelColor": "#000", "rowPadding": 10, "clipHeight": 30, "labelLimit": 600,
     "encode": {"symbols": {"update": {"strokeWidth": {"signal": "datum.value == 'PM 10' || datum.value == 'PM 2,5' ? 1.5 : 7"}}}}}}
  }},
 {"data": {"name": "pm"},
  "mark": {"type": "line", "strokeWidth": 3, "strokeJoin": "round", "invalid": "break-paths-show-domains", "clip": true},
  "encoding": {
   "y": {"field": "b", "type": "quantitative", "title": "PM10 en PM2,5 concentratie [ug/m3]"},
   "color": {"datum": "PM 2,5", "type": "nominal"}
  }},
 {"data": {"name": "lim"},
  "mark": {"type": "line", "strokeWidth": 7},
  "encoding": {
   "y": {"field": "c", "type": "quantitative", "title": "PM10 en PM2,5 concentratie [ug/m3]"},
   "color": {"datum": "Grenswaarde jaargemiddelde PM 10", "type": "nominal"}
  }},
 {"data": {"name": "lim"},
  "mark": {"type": "line", "strokeWidth": 6},
  "encoding": {
   "y": {"field": "d", "type": "quantitative", "title": "PM10 en PM2,5 concentratie [ug/m3]"},
   "color": {"datum": "Grenswaarde jaargemiddelde PM 2,5", "type": "nominal"}
  }}
]
}
